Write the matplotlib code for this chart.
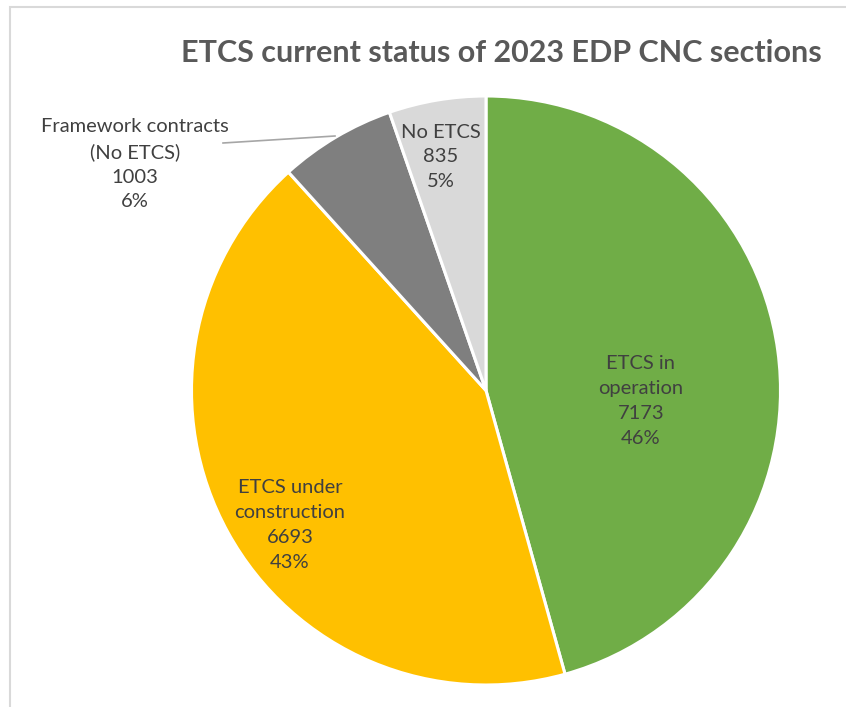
import matplotlib.pyplot as plt
from matplotlib.patches import Rectangle

plt.rcParams['font.family'] = ['Lato', 'DejaVu Sans']

# data
categories = ['ETCS in\noperation', 'ETCS under\nconstruction', 'Framework contracts\n(No ETCS)', 'No ETCS']
values = [7173, 6693, 1003, 835]
percents = ['46%', '43%', '6%', '5%']
colors = ['#70AD47', '#FFC000', '#7F7F7F', '#D9D9D9']

W, H = 846, 707
fig = plt.figure(figsize=(W / 100, H / 100), dpi=100)

# pie centre and radius in pixels
cx, cy, r = 486, 390.5, 294.5
ax = fig.add_axes([(cx - r) / W, (H - cy - r) / H, 2 * r / W, 2 * r / H])
ax.pie(values, colors=colors, startangle=90, counterclock=False,
       wedgeprops=dict(edgecolor='white', linewidth=2.2))
ax.set_xlim(-1, 1)
ax.set_ylim(-1, 1)

def px(x, y):
    # pixel position -> data coordinates of the pie axes
    return (x - cx) / r, (cy - y) / r

# label placement (pixel centres)
label_pos = [(641, 401), (290, 525), (135, 164), (441, 157)]
for name, v, p, pos in zip(categories, values, percents, label_pos):
    x, y = px(*pos)
    ax.text(x, y, f"{name}\n{v}\n{p}", ha='center', va='center',
            fontsize=14.5, color='#404040', linespacing=1.55, clip_on=False)

# leader line for the framework contracts label
(x0, y0), (x1, y1) = px(223, 143), px(335, 136)
ax.plot([x0, x1], [y0, y1], color='#A6A6A6', lw=1.2, clip_on=False)

fig.text(501 / W, 1 - 53 / H, 'ETCS current status of 2023 EDP CNC sections',
         ha='center', va='center', fontsize=22, fontweight='bold', color='#595959')

# chart frame (only left and top edges visible)
fig.add_artist(Rectangle((10 / W, -0.1), 1.2, 1.1 - 7 / H, transform=fig.transFigure,
                         fill=False, edgecolor='#D9D9D9', lw=1.5))

fig.savefig('out.png', dpi=100)
